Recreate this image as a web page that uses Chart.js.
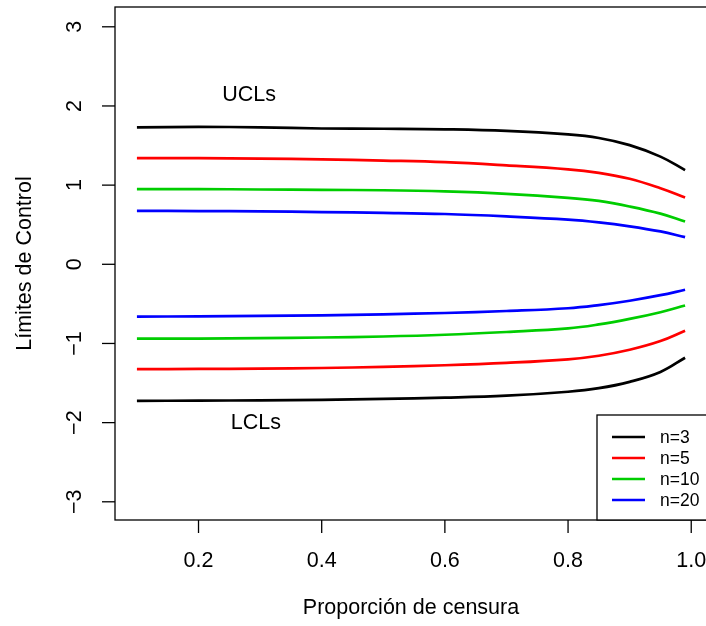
<!DOCTYPE html>
<html>
<head>
<meta charset="utf-8">
<script src="https://cdn.jsdelivr.net/npm/chart.js@4/dist/chart.umd.min.js"></script>
<style>
  html, body { margin: 0; padding: 0; overflow: hidden; background: #fff; }
  #wrap { width: 712px; height: 626px; }
</style>
</head>
<body>
<div id="wrap"><canvas id="chart"></canvas></div>
<script>
/* ===== DATA ===== */
const censura = [0.1, 0.2, 0.3, 0.4, 0.5, 0.6, 0.7, 0.8, 0.85, 0.9, 0.95, 0.99];

const ucl_n3  = [1.730, 1.735, 1.730, 1.715, 1.712, 1.705, 1.685, 1.640, 1.595, 1.505, 1.360, 1.190];
const ucl_n5  = [1.340, 1.340, 1.335, 1.325, 1.310, 1.290, 1.250, 1.200, 1.155, 1.080, 0.960, 0.843];
const ucl_n10 = [0.950, 0.950, 0.945, 0.940, 0.935, 0.920, 0.890, 0.840, 0.800, 0.730, 0.640, 0.540];
const ucl_n20 = [0.675, 0.672, 0.668, 0.660, 0.650, 0.635, 0.605, 0.565, 0.530, 0.480, 0.415, 0.343];

const lcl_n20 = [-0.660, -0.658, -0.652, -0.645, -0.632, -0.615, -0.590, -0.555, -0.515, -0.460, -0.390, -0.322];
const lcl_n10 = [-0.940, -0.938, -0.932, -0.925, -0.912, -0.890, -0.855, -0.810, -0.760, -0.690, -0.605, -0.520];
const lcl_n5  = [-1.325, -1.322, -1.318, -1.310, -1.295, -1.275, -1.245, -1.200, -1.155, -1.080, -0.970, -0.840];
const lcl_n3  = [-1.725, -1.722, -1.718, -1.712, -1.700, -1.685, -1.660, -1.610, -1.565, -1.485, -1.360, -1.180];

const seriesNames = ['n=3', 'n=5', 'n=10', 'n=20'];
const seriesColors = ['#000000', '#FF0000', '#00CD00', '#0000FF'];

const xTicks = [0.2, 0.4, 0.6, 0.8, 1.0];
const yTicks = [-3, -2, -1, 0, 1, 2, 3];

const FONT = '"Liberation Sans", Arial, Helvetica, sans-serif';

function pts(vals) {
    return censura.map((x, i) => ({ x: x, y: vals[i] }));
}

function ds(vals, idx) {
    return {
        label: seriesNames[idx],
        data: pts(vals),
        borderColor: seriesColors[idx],
        borderWidth: 2.7,
        pointRadius: 0,
        fill: false,
        tension: 0.4
    };
}

/* ===== R-STYLE AXES, TEXT, LEGEND ===== */
const rStyle = {
    id: 'rStyle',
    afterDatasetsDraw(chart) {
        const ctx = chart.ctx;
        const a = chart.chartArea;
        const xs = chart.scales.x;
        const ys = chart.scales.y;

        ctx.save();
        ctx.strokeStyle = '#000';
        ctx.fillStyle = '#000';
        ctx.lineWidth = 1.3;

        // box
        ctx.strokeRect(a.left, a.top, a.right - a.left, a.bottom - a.top);

        // x ticks
        ctx.font = '21.5px ' + FONT;
        ctx.textAlign = 'center';
        ctx.textBaseline = 'middle';
        xTicks.forEach(t => {
            const px = xs.getPixelForValue(t);
            ctx.beginPath();
            ctx.moveTo(px, a.bottom);
            ctx.lineTo(px, a.bottom + 13);
            ctx.stroke();
            ctx.fillText(t.toFixed(1), px, 561);
        });

        // y ticks (rotated labels)
        yTicks.forEach(t => {
            const py = ys.getPixelForValue(t);
            ctx.beginPath();
            ctx.moveTo(a.left, py);
            ctx.lineTo(a.left - 13, py);
            ctx.stroke();
            ctx.save();
            ctx.translate(75, py);
            ctx.rotate(-Math.PI / 2);
            ctx.fillText(t < 0 ? '\u2212' + Math.abs(t) : String(t), 0, 0);
            ctx.restore();
        });

        // axis titles
        ctx.fillText('Proporción de censura', (a.left + a.right) / 2, 608);
        ctx.save();
        ctx.translate(25, (a.top + a.bottom) / 2);
        ctx.rotate(-Math.PI / 2);
        ctx.fillText('Límites de Control', 0, 0);
        ctx.restore();

        // annotations
        ctx.fillText('UCLs', xs.getPixelForValue(0.282), ys.getPixelForValue(2.14));
        ctx.fillText('LCLs', xs.getPixelForValue(0.293), ys.getPixelForValue(-2.0));

        // legend
        const lx = 597, ly = 415;
        ctx.fillStyle = '#fff';
        ctx.fillRect(lx, ly, 130, a.bottom - ly);
        ctx.strokeRect(lx, ly, 130, a.bottom - ly);
        ctx.font = '17.5px ' + FONT;
        ctx.textAlign = 'left';
        const rows = [437, 458, 479, 500];
        seriesNames.forEach((name, i) => {
            ctx.strokeStyle = seriesColors[i];
            ctx.lineWidth = 2.7;
            ctx.beginPath();
            ctx.moveTo(612, rows[i]);
            ctx.lineTo(645, rows[i]);
            ctx.stroke();
            ctx.fillStyle = '#000';
            ctx.fillText(name, 660, rows[i] + 1);
        });

        ctx.restore();
    }
};

/* ===== CHART ===== */
new Chart(document.getElementById('chart'), {
    type: 'line',
    data: {
        datasets: [
            ds(ucl_n3, 0), ds(ucl_n5, 1), ds(ucl_n10, 2), ds(ucl_n20, 3),
            ds(lcl_n3, 0), ds(lcl_n5, 1), ds(lcl_n10, 2), ds(lcl_n20, 3)
        ]
    },
    options: {
        responsive: true,
        maintainAspectRatio: false,
        animation: false,
        devicePixelRatio: 1,
        layout: { padding: { left: 115, top: 7, right: 5, bottom: 106 } },
        plugins: {
            legend: { display: false },
            tooltip: { enabled: false }
        },
        scales: {
            x: { type: 'linear', min: 0.0644, max: 1.0256, display: false },
            y: { type: 'linear', min: -3.23, max: 3.25, display: false }
        }
    },
    plugins: [rStyle]
});
</script>
</body>
</html>
